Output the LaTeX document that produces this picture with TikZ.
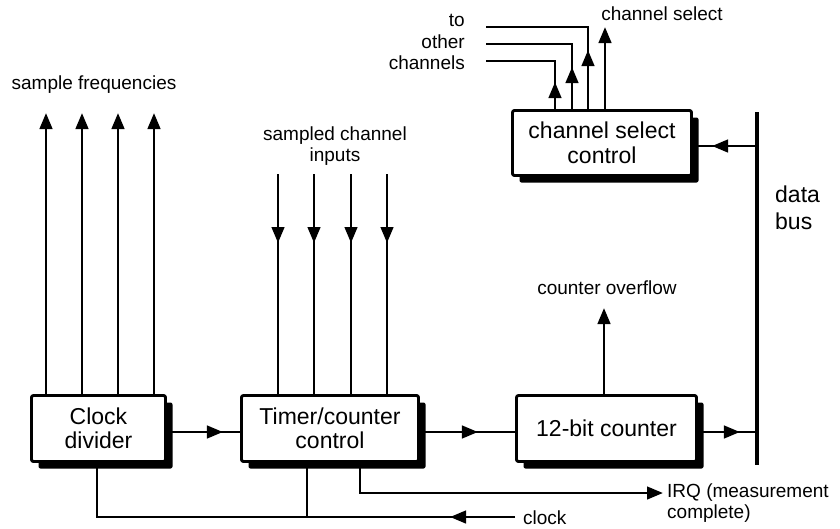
\documentclass[tikz,border=0pt]{standalone}
\usepackage{fontspec}
\setmainfont{Liberation Sans}
\usetikzlibrary{arrows.meta,decorations.markings,shadows}
\begin{document}
\begin{tikzpicture}[x=1pt,y=-1pt,
  box/.style={draw, line width=2.9pt, fill=white, rounded corners=2pt, align=center,
    inner sep=0pt, font=\fontsize{23}{24.5}\selectfont,
    general shadow={fill=black, shadow xshift=7pt, shadow yshift=-7pt}},
  lbl/.style={inner sep=0pt, font=\fontsize{19}{21.5}\selectfont},
  wire/.style={line width=2.8pt},
  tip/.style={-{Triangle[length=16pt,width=12.5pt]}},
  midarrow/.style={postaction={decorate}, decoration={markings,
    mark=at position #1 with {\arrow{Triangle[length=16pt,width=12.5pt]}}}}
]
\useasboundingbox (0,0) rectangle (840,528);

% boxes
\node[box, minimum width=134pt, minimum height=66pt] (cd) at (98.5,428.5) {Clock\\divider};
\node[box, minimum width=177pt, minimum height=66pt] (tc) at (330,428.5) {Timer/counter\\control};
\node[box, minimum width=180pt, minimum height=66pt] (cn) at (606.5,428.5) {12-bit counter};
\node[box, minimum width=179pt, minimum height=65pt] (cs) at (602,143) {channel select\\control};

% labels
\node[lbl] (lsf) at (94,85) {sample frequencies};
\node[lbl, align=center] (lsc) at (335,146) {sampled channel\\inputs};
\node[lbl, anchor=east, align=right] (loc) at (465,42) {to\\other\\channels};
\node[lbl] (lcs) at (662,14) {channel select};
\node[lbl] (lov) at (607,288) {counter overflow};
\node[inner sep=0pt, anchor=west, align=left, font=\fontsize{23}{27}\selectfont] (ldb) at (775,208) {data\\bus};
\node[lbl, anchor=west, align=left] (lirq) at (667,503) {IRQ (measurement\\complete)};
\node[lbl, anchor=west] (lclk) at (523,518) {clock};

% sample frequencies
\foreach \x [count=\i] in {46,82,118,154} {
  \coordinate (sf\i) at (\x,113);
  \draw[wire, tip] (sf\i |- cd.north) -- (sf\i);
}
% sampled channel inputs
\foreach \x [count=\i] in {278,314,351,387} {
  \coordinate (in\i) at (\x,174);
  \draw[wire, midarrow=69pt] (in\i) -- (in\i |- tc.north);
}

% channel select outputs
\coordinate (o1) at (555,61); \coordinate (e1) at (486,61);
\coordinate (o2) at (572,44); \coordinate (e2) at (486,44);
\coordinate (o3) at (588,27); \coordinate (e3) at (486,27);
\coordinate (o4) at (605,27);
\draw[wire, midarrow=27pt] (o1 |- cs.north) -- (o1) -- (e1);
\draw[wire, midarrow=42pt] (o2 |- cs.north) -- (o2) -- (e2);
\draw[wire, midarrow=59pt] (o3 |- cs.north) -- (o3) -- (e3);
\draw[wire, tip] (o4 |- cs.north) -- (o4);

% data bus
\coordinate (bt) at (757,112);
\coordinate (bb) at (757,465);
\draw[line width=3.8pt] (bt) -- (bb);
\coordinate (b1) at (757,146);
\draw[wire, midarrow=45pt] (b1) -- (b1 -| cs.east);
\coordinate (b2) at (757,432);
\draw[wire, midarrow=42pt] (b2 -| cn.east) -- (b2);

% horizontal chain
\coordinate (h1) at (0,432);
\draw[wire, midarrow=56pt] (h1 -| cd.east) -- (h1 -| tc.west);
\draw[wire, midarrow=58pt] (h1 -| tc.east) -- (h1 -| cn.west);

% counter overflow
\coordinate (ov) at (604,308);
\draw[wire, tip] (ov |- cn.north) -- (ov);

% clock
\coordinate (clk) at (515,517);
\coordinate (j0) at (97,517);
\coordinate (j1) at (307,517);
\draw[wire, midarrow=65pt] (clk) -- (j0) -- (j0 |- cd.south);
\draw[wire] (j1) -- (j1 |- tc.south);

% IRQ
\coordinate (q0) at (360,493);
\coordinate (irq) at (663,493);
\draw[wire, tip] (q0 |- tc.south) -- (q0) -- (irq);
\end{tikzpicture}
\end{document}
